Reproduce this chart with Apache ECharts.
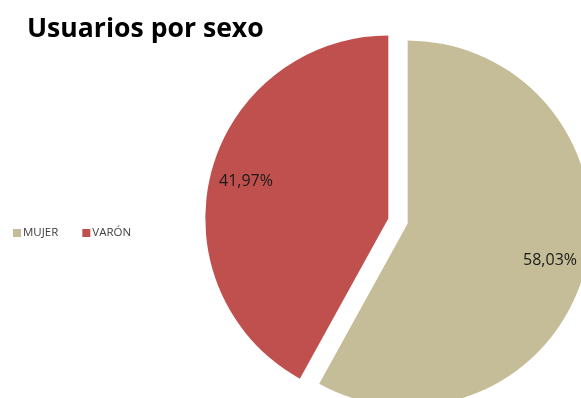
<!DOCTYPE html>
<html>
<head>
<meta charset="utf-8">
<script src="https://cdn.jsdelivr.net/npm/echarts@6/dist/echarts.min.js"></script>
<style>
  html, body { margin: 0; padding: 0; background: #ffffff; }
  #chart { width: 581px; height: 398px; }
</style>
</head>
<body>
<div id="chart"></div>
<script>
// Users by sex: category names, shares (%) and slice colours
const categories = ['MUJER', 'VARÓN'];
const shares = [58.03, 41.97];
const colors = ['#C4BD97', '#C0504D'];

const fmt = v => v.toFixed(2).replace('.', ',') + '%';

const pieData = categories.map((name, i) => ({
  name: name,
  value: shares[i],
  selected: true,
  itemStyle: { color: colors[i] }
}));

// Label ring: same slices, transparent, so labels sit further out
const labelData = categories.map((name, i) => ({
  name: name,
  value: shares[i],
  selected: true,
  itemStyle: { color: 'rgba(0,0,0,0)' }
}));

const center = [398, 221];
const R = 183;

const chart = echarts.init(document.getElementById('chart'), null, { renderer: 'canvas' });
chart.setOption({
  animation: false,
  backgroundColor: '#ffffff',
  title: {
    text: 'Usuarios por sexo',
    left: 22,
    top: 11,
    textStyle: {
      fontFamily: 'Open Sans',
      fontWeight: 'bold',
      fontSize: 26.6,
      color: '#000000'
    }
  },
  legend: {
    orient: 'horizontal',
    left: 8,
    top: 222,
    itemWidth: 8,
    itemHeight: 8,
    itemGap: 24,
    icon: 'rect',
    data: categories,
    textStyle: {
      fontFamily: 'Open Sans',
      fontSize: 11.5,
      color: '#404040',
      padding: [0, 0, 0, -3]
    },
    selectedMode: false
  },
  series: [
    {
      type: 'pie',
      center: center,
      radius: [0, R],
      startAngle: 90,
      clockwise: true,
      selectedMode: 'multiple',
      selectedOffset: 10,
      silent: true,
      label: { show: false },
      labelLine: { show: false },
      data: pieData
    },
    {
      type: 'pie',
      center: center,
      radius: [105, R],
      startAngle: 90,
      clockwise: true,
      selectedMode: 'multiple',
      selectedOffset: 10,
      silent: true,
      legendHoverLink: false,
      label: {
        show: true,
        position: 'inside',
        formatter: p => fmt(p.value),
        fontFamily: 'Open Sans',
        fontSize: 16,
        color: '#1a1a1a'
      },
      labelLine: { show: false },
      data: labelData
    }
  ]
});
</script>
</body>
</html>
